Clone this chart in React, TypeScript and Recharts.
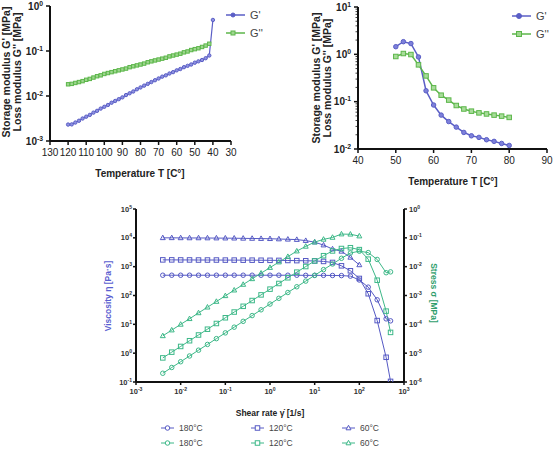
import React from "react";
import { LineChart, Line, XAxis, YAxis } from "recharts";

const FONT = "'Liberation Sans', Arial, sans-serif";
const BLUE = "#5a5ec6";
const GREEN = "#5cb64a";
const FLOW_BLUE = "#5559c4";
const FLOW_GREEN = "#3db888";

// top left: cooling sweep, 120 -> 40 °C
const tempsCool = [
  120, 118, 116, 114, 112, 110, 108, 106, 104, 102, 100, 98, 96, 94, 92, 90, 88, 86, 84, 82, 80,
  78, 76, 74, 72, 70, 68, 66, 64, 62, 60, 58, 56, 54, 52, 50, 48, 46, 44, 42, 40,
];
const gPrimeCool = [
  0.00232, 0.00234, 0.00257, 0.00282, 0.00316, 0.00347, 0.0038, 0.00427, 0.00468, 0.00525, 0.00575,
  0.00631, 0.00708, 0.00776, 0.00851, 0.00933, 0.0105, 0.0115, 0.0126, 0.0141, 0.0155, 0.017, 0.0186,
  0.0204, 0.0224, 0.0245, 0.0269, 0.0288, 0.0316, 0.0339, 0.0372, 0.0398, 0.0437, 0.0468, 0.0501,
  0.055, 0.0589, 0.0631, 0.0692, 0.0794, 0.49,
];
const gDoublePrimeCool = [
  0.0182, 0.0186, 0.0195, 0.0204, 0.0214, 0.0229, 0.024, 0.0257, 0.0275, 0.0288, 0.0309, 0.0324,
  0.0339, 0.0355, 0.0372, 0.0389, 0.0407, 0.0437, 0.0457, 0.0479, 0.0501, 0.0525, 0.0562, 0.0589,
  0.0617, 0.0646, 0.0676, 0.0708, 0.0759, 0.0794, 0.0832, 0.0871, 0.0933, 0.0977, 0.105, 0.11, 0.115,
  0.123, 0.132, 0.145,
];
const coolTicks = [130, 120, 110, 100, 90, 80, 70, 60, 50, 40, 30];
const coolModTicks = [0.001, 0.01, 0.1, 1];

// top right: heating sweep, 50 -> 80 °C
const tempsHeat = [50, 52, 54, 56, 58, 60, 62, 64, 66, 68, 70, 72, 74, 76, 78, 80];
const gPrimeHeat = [
  1.45, 1.85, 1.69, 0.88, 0.17, 0.085, 0.052, 0.038, 0.029, 0.0224, 0.019, 0.0176, 0.0157, 0.0145,
  0.0131, 0.0119,
];
const gDoublePrimeHeat = [
  0.9, 1.04, 0.99, 0.6, 0.35, 0.196, 0.137, 0.108, 0.083, 0.07, 0.063, 0.058, 0.055, 0.052, 0.0495,
  0.0465,
];
const heatTicks = [40, 50, 60, 70, 80, 90];
const heatModTicks = [0.01, 0.1, 1, 10];

// bottom: flow curves
const shearRates = [
  0.00398, 0.00631, 0.01, 0.0158, 0.0251, 0.0398, 0.0631, 0.1, 0.158, 0.251, 0.398, 0.631, 1, 1.58,
  2.51, 3.98, 6.31, 10, 15.8, 25.1, 39.8, 63.1, 100, 158, 251, 398, 500,
];
const visc180 = [
  505, 505, 505, 505, 505, 505, 505, 505, 505, 505, 505, 505, 505, 505, 505, 505, 500, 500, 500, 495,
  490, 470, 345, 195, 71, 15.5, 13.2,
];
const visc120 = [
  1720, 1720, 1710, 1710, 1700, 1700, 1700, 1690, 1690, 1680, 1680, 1670, 1660, 1650, 1640, 1620,
  1600, 1580, 1520, 1400, 1070, 720, 390, 115, 13.5, 0.72, 0.105,
];
const visc60 = [
  10000, 10000, 9950, 9900, 9900, 9850, 9800, 9750, 9700, 9600, 9500, 9400, 9300, 9100, 8900, 8700,
  8000, 7100, 5600, 4100, 3400, 2100, 1150,
];
const stress180 = [
  2.01e-6, 3.19e-6, 5.05e-6, 7.98e-6, 1.27e-5, 2.01e-5, 3.19e-5, 5.05e-5, 7.98e-5, 1.27e-4, 2.01e-4,
  3.19e-4, 5.05e-4, 7.98e-4, 1.27e-3, 2.01e-3, 3.16e-3, 5.0e-3, 7.9e-3, 0.0124, 0.0195, 0.0297,
  0.0345, 0.0308, 0.0178, 0.00617, 0.0066,
];
const stress120 = [
  6.85e-6, 1.085e-5, 1.71e-5, 2.7e-5, 4.27e-5, 6.77e-5, 1.07e-4, 1.69e-4, 2.67e-4, 4.22e-4, 6.69e-4,
  1.05e-3, 1.66e-3, 2.61e-3, 4.12e-3, 6.45e-3, 0.0101, 0.0158, 0.024, 0.0351, 0.0426, 0.0454, 0.039,
  0.0182, 3.39e-3, 2.87e-4, 5.25e-5,
];
const stress60 = [
  3.98e-5, 6.31e-5, 9.95e-5, 1.56e-4, 2.49e-4, 3.92e-4, 6.18e-4, 9.75e-4, 1.53e-3, 2.41e-3, 3.78e-3,
  5.93e-3, 9.3e-3, 0.0144, 0.0223, 0.0346, 0.0505, 0.071, 0.0885, 0.103, 0.135, 0.133, 0.115,
];
const viscTicks = [0.1, 1, 10, 100, 1000, 10000, 100000];
const stressTicks = [1e-6, 1e-5, 1e-4, 1e-3, 1e-2, 1e-1, 1];
const rateTicks = [0.001, 0.01, 0.1, 1, 10, 100, 1000];

type Shape = "circle" | "square" | "triangle";

const pairs = (xs: number[], ys: number[]) => ys.map((y, i) => ({ x: xs[i], y }));

// decade ticks plus the 2..9 minor ticks between them
const withMinors = (majors: number[]) =>
  majors.flatMap((m, i) =>
    i === majors.length - 1 ? [m] : [1, 2, 3, 4, 5, 6, 7, 8, 9].map((k) => m * k)
  );

function Marker({ cx, cy, shape, color, size, fill }: any) {
  if (cx == null || cy == null) return null;
  const r = size / 2;
  if (shape === "square")
    return <rect x={cx - r} y={cy - r} width={size} height={size} fill={fill} stroke={color} strokeWidth={1} />;
  if (shape === "triangle")
    return (
      <polygon
        points={`${cx},${cy - r * 1.2} ${cx - r * 1.1},${cy + r * 0.8} ${cx + r * 1.1},${cy + r * 0.8}`}
        fill={fill}
        stroke={color}
        strokeWidth={1}
      />
    );
  return <circle cx={cx} cy={cy} r={r} fill={fill} stroke={color} strokeWidth={1} />;
}

const dotFor = (id: string, shape: Shape, color: string, size: number, fill: string) => (p: any) =>
  <Marker key={`${id}-${p.index}`} cx={p.cx} cy={p.cy} shape={shape} color={color} size={size} fill={fill} />;

function PowLabel({ x, y, value, anchor, dy, fs, color }: any) {
  const e = Math.round(Math.log10(value));
  return (
    <text x={x} y={y} dy={dy} textAnchor={anchor} fontSize={fs} fontFamily={FONT} fontWeight="bold" fill={color ?? "#333"}>
      10
      <tspan dy={-fs * 0.4} fontSize={fs * 0.68}>
        {e}
      </tspan>
    </text>
  );
}

function PowTick({ x, y, payload, side, fs, color }: any) {
  const anchor = side === "left" ? "end" : side === "right" ? "start" : "middle";
  return (
    <PowLabel
      x={x}
      y={y}
      value={payload.value}
      anchor={anchor}
      dy={side === "bottom" ? fs * 0.75 : fs * 0.35}
      fs={fs}
      color={color}
    />
  );
}

// left log axis with minor ticks; drawn at the axis position (tickSize and tickMargin are 0)
function MinorLogTick({ x, y, payload, fs }: any) {
  const lg = Math.log10(payload.value);
  const major = Math.abs(lg - Math.round(lg)) < 1e-6;
  return (
    <g>
      <line x1={x - (major ? 4 : 2.5)} x2={x} y1={y} y2={y} stroke="#111" strokeWidth={major ? 1.5 : 0.8} />
      {major && <PowLabel x={x - 7} y={y} value={payload.value} anchor="end" dy={fs * 0.35} fs={fs} color="#222" />}
    </g>
  );
}

const axisLine = { stroke: "#111", strokeWidth: 2 };
const tickLine = { stroke: "#111", strokeWidth: 1.5 };
const tempTick = { fontSize: 10, fill: "#222", fontFamily: FONT };

const flowSeries = [
  { id: "v180", name: "180°C", shape: "circle" as Shape, axis: "eta", color: FLOW_BLUE, y: visc180 },
  { id: "v120", name: "120°C", shape: "square" as Shape, axis: "eta", color: FLOW_BLUE, y: visc120 },
  { id: "v60", name: "60°C", shape: "triangle" as Shape, axis: "eta", color: FLOW_BLUE, y: visc60 },
  { id: "s180", name: "180°C", shape: "circle" as Shape, axis: "sigma", color: FLOW_GREEN, y: stress180 },
  { id: "s120", name: "120°C", shape: "square" as Shape, axis: "sigma", color: FLOW_GREEN, y: stress120 },
  { id: "s60", name: "60°C", shape: "triangle" as Shape, axis: "sigma", color: FLOW_GREEN, y: stress60 },
];

const TempLabels = ({ cx, cy, ly, lx }: any) => (
  <>
    <text x={cx} y={cy} textAnchor="middle" fontSize={10} fontWeight="bold" fontFamily={FONT} fill="#222">
      Temperature T [C°]
    </text>
    {["Storage modulus G' [MPa]", "Loss modulus G'' [MPa]"].map((t, i) => (
      <text
        key={t}
        x={lx + i * 11}
        y={ly}
        transform={`rotate(-90 ${lx + i * 11} ${ly})`}
        textAnchor="middle"
        dominantBaseline="central"
        fontSize={10.5}
        fontWeight="bold"
        fontFamily={FONT}
        fill="#222"
      >
        {t}
      </text>
    ))}
  </>
);

const ModLegend = ({ x, y, small }: any) => (
  <>
    {[
      { name: "G'", color: BLUE, shape: "circle", fill: BLUE },
      { name: "G''", color: GREEN, shape: "square", fill: "#9ed68f" },
    ].map((s, i) => (
      <g key={s.name}>
        <line x1={x} x2={x + 19} y1={y + i * 18} y2={y + i * 18} stroke={s.color} strokeWidth={1.5} />
        <Marker cx={x + 7} cy={y + i * 18} shape={s.shape} color={s.color} size={small ? 4 : 5} fill={s.fill} />
        <text x={x + 24} y={y + i * 18} dy={4} fontSize={11} fontFamily={FONT} fill="#444">
          {s.name}
        </text>
      </g>
    ))}
  </>
);

export default function App() {
  return (
    <div style={{ position: "absolute", left: 0, top: 0, width: 553, height: 449, background: "#fff" }}>
      <div style={{ position: "absolute", left: 0, top: 0 }}>
        <LineChart width={270} height={190} margin={{ top: 6, right: 39, bottom: 19, left: 0 }}>
          <XAxis
            dataKey="x"
            type="number"
            domain={[30, 130]}
            reversed
            ticks={coolTicks}
            interval={0}
            axisLine={axisLine}
            tickLine={tickLine}
            tickSize={4}
            tickMargin={4}
            tick={tempTick}
            height={30}
          />
          <YAxis
            type="number"
            scale="log"
            domain={[0.001, 1]}
            ticks={coolModTicks}
            interval={0}
            allowDataOverflow
            axisLine={axisLine}
            tickLine={tickLine}
            tickSize={4}
            tickMargin={3}
            width={50}
            tick={<PowTick side="left" fs={10} color="#222" />}
          />
          <Line
            data={pairs(tempsCool, gPrimeCool)}
            dataKey="y"
            stroke={BLUE}
            strokeWidth={1.2}
            dot={dotFor("tlg1", "circle", BLUE, 3.4, "#8f92e0")}
            isAnimationActive={false}
          />
          <Line
            data={pairs(tempsCool, gDoublePrimeCool)}
            dataKey="y"
            stroke={GREEN}
            strokeWidth={1.2}
            dot={dotFor("tlg2", "square", GREEN, 3.4, "#9ed68f")}
            isAnimationActive={false}
          />
        </LineChart>
      </div>

      <div style={{ position: "absolute", left: 280, top: 0 }}>
        <LineChart width={273} height={190} margin={{ top: 7, right: 6, bottom: 11, left: 0 }}>
          <XAxis
            dataKey="x"
            type="number"
            domain={[40, 90]}
            ticks={heatTicks}
            interval={0}
            axisLine={axisLine}
            tickLine={tickLine}
            tickSize={4}
            tickMargin={4}
            tick={tempTick}
            height={30}
          />
          <YAxis
            type="number"
            scale="log"
            domain={[0.01, 10]}
            ticks={withMinors(heatModTicks)}
            interval={0}
            allowDataOverflow
            axisLine={axisLine}
            tickLine={false}
            tickSize={0}
            tickMargin={0}
            width={78}
            tick={<MinorLogTick fs={10} />}
          />
          <Line
            data={pairs(tempsHeat, gPrimeHeat)}
            dataKey="y"
            stroke={BLUE}
            strokeWidth={1.5}
            dot={dotFor("trg1", "circle", BLUE, 4.5, "#7d80da")}
            isAnimationActive={false}
          />
          <Line
            data={pairs(tempsHeat, gDoublePrimeHeat)}
            dataKey="y"
            stroke={GREEN}
            strokeWidth={1.5}
            dot={dotFor("trg2", "square", GREEN, 4.5, "#a8dc9a")}
            isAnimationActive={false}
          />
        </LineChart>
      </div>

      <div style={{ position: "absolute", left: 60, top: 195 }}>
        <LineChart width={400} height={210} margin={{ top: 14, right: 0, bottom: 0, left: 0 }}>
          <XAxis
            dataKey="x"
            type="number"
            scale="log"
            domain={[0.001, 1000]}
            ticks={rateTicks}
            interval={0}
            allowDataOverflow
            axisLine={axisLine}
            tickLine={tickLine}
            tickSize={3}
            tickMargin={3}
            height={23}
            tick={<PowTick side="bottom" fs={7.5} />}
          />
          <YAxis
            yAxisId="eta"
            type="number"
            scale="log"
            domain={[0.1, 100000]}
            ticks={viscTicks}
            interval={0}
            allowDataOverflow
            axisLine={axisLine}
            tickLine={tickLine}
            tickSize={3}
            tickMargin={1}
            width={76}
            tick={<PowTick side="left" fs={7.5} />}
          />
          <YAxis
            yAxisId="sigma"
            orientation="right"
            type="number"
            scale="log"
            domain={[1e-6, 1]}
            ticks={stressTicks}
            interval={0}
            allowDataOverflow
            axisLine={axisLine}
            tickLine={tickLine}
            tickSize={3}
            tickMargin={2}
            width={56}
            tick={<PowTick side="right" fs={7.5} />}
          />
          {flowSeries.map((s) => (
            <Line
              key={s.id}
              yAxisId={s.axis}
              data={pairs(shearRates, s.y)}
              dataKey="y"
              name={s.name}
              stroke={s.color}
              strokeWidth={1}
              dot={dotFor(s.id, s.shape, s.color, 4.5, "none")}
              isAnimationActive={false}
            />
          ))}
        </LineChart>
      </div>

      <svg width={553} height={449} style={{ position: "absolute", left: 0, top: 0, pointerEvents: "none" }}>
        <TempLabels cx={140} cy={177} lx={6} ly={72} />
        <TempLabels cx={453} cy={185} lx={316} ly={78} />
        <ModLegend x={226} y={15} small />
        <ModLegend x={512} y={16} />

        <text
          x={108}
          y={296}
          transform="rotate(-90 108 296)"
          textAnchor="middle"
          dominantBaseline="central"
          fontSize={8.5}
          fontWeight="bold"
          fontFamily={FONT}
          fill="#5a5ed0"
        >
          Viscosity η [Pa·s]
        </text>
        <text
          x={434}
          y={293}
          transform="rotate(90 434 293)"
          textAnchor="middle"
          dominantBaseline="central"
          fontSize={8.5}
          fontWeight="bold"
          fontFamily={FONT}
          fill="#2f9e6c"
        >
          Stress σ [MPa]
        </text>
        <text x={270} y={416} textAnchor="middle" fontSize={8.5} fontWeight="bold" fontFamily={FONT} fill="#222">
          Shear rate γ̇ [1/s]
        </text>

        {flowSeries.map((s, i) => {
          const col = i % 3;
          const row = Math.floor(i / 3);
          const lx = [161, 251, 342][col];
          const ly = 428 + row * 15;
          return (
            <g key={s.id}>
              <line x1={lx} x2={lx + 13} y1={ly} y2={ly} stroke={s.color} strokeWidth={1} />
              <Marker cx={lx + 6.5} cy={ly} shape={s.shape} color={s.color} size={4.5} fill="#fff" />
              <text x={lx + 18} y={ly} dy={3} fontSize={8.5} fontFamily={FONT} fill="#444">
                {s.name}
              </text>
            </g>
          );
        })}
      </svg>
    </div>
  );
}
